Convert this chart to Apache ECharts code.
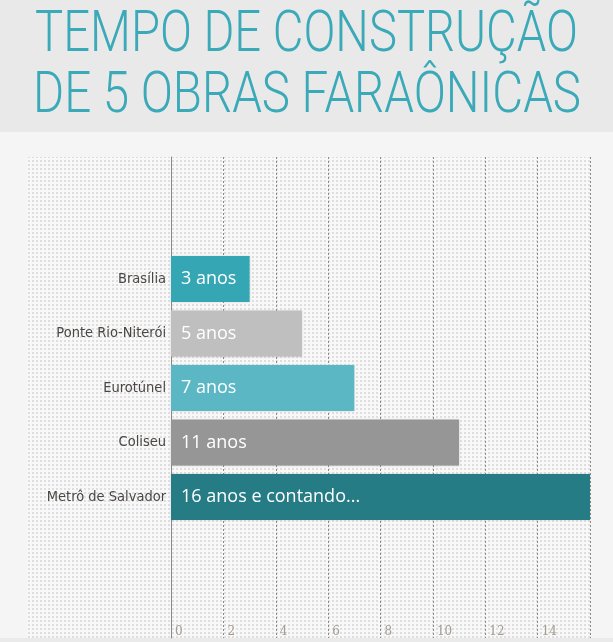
<!DOCTYPE html>
<html><head><meta charset="utf-8">
<script src="https://cdn.jsdelivr.net/npm/echarts@6/dist/echarts.min.js"></script>
<style>html,body{margin:0;padding:0;background:#f5f5f5;}#c{width:613px;height:642px;}</style>
</head><body><div id="c"></div>
<script>
const titleLines = ['TEMPO DE CONSTRUÇÃO', 'DE 5 OBRAS FARAÔNICAS'];
const categories = ['Brasília', 'Ponte Rio-Niterói', 'Eurotúnel', 'Coliseu', 'Metrô de Salvador'];
const years = [3, 5, 7, 11, 16];
const barLabels = ['3 anos', '5 anos', '7 anos', '11 anos', '16 anos e contando...'];
const barColors = ['#35a6b4', '#bfbfbf', '#5bb7c4', '#969696', '#267c85'];
const xMin = 0, xMax = 16, xStep = 2;

const pc = document.createElement('canvas');
pc.width = 4; pc.height = 4;
const g = pc.getContext('2d');
g.fillStyle = '#f8f8f8'; g.fillRect(0,0,4,4);
g.fillStyle = '#dedede'; g.fillRect(0,0,2,2);

const labelFont = '"DejaVu Sans Condensed","Liberation Sans Narrow",sans-serif';
const titleFontCss = '300 57px Roboto,"DejaVu Sans Condensed",sans-serif';
const mc = document.createElement('canvas').getContext('2d');
mc.font = titleFontCss;
const sx1 = 543 / mc.measureText(titleLines[0]).width;
const sx2 = 548 / mc.measureText(titleLines[1]).width;

const chart = echarts.init(document.getElementById('c'), null, {renderer:'canvas'});
chart.setOption({
  animation: false,
  backgroundColor: '#f5f5f5',
  graphic: [
    {type:'rect', z:-10, silent:true, shape:{x:0,y:0,width:613,height:132}, style:{fill:'#e9e9e9'}},
    {type:'rect', z:-10, silent:true, shape:{x:0,y:638,width:613,height:4}, style:{fill:'#eaeaea'}},
    {type:'rect', z:-9, silent:true, shape:{x:27,y:157,width:563,height:481}, style:{fill:{image:pc, repeat:'repeat'}}},
    {type:'text', z:10, x:306.5, y:8, scaleX:sx1, style:{text:titleLines[0], font:titleFontCss, fill:'#3aa9b8', align:'center', verticalAlign:'top'}},
    {type:'text', z:10, x:307, y:69, scaleX:sx2, style:{text:titleLines[1], font:titleFontCss, fill:'#3aa9b8', align:'center', verticalAlign:'top'}}
  ],
  grid: [
    {left:171, right:23, top:251.75, height:272.5},
    {left:171, right:23, top:157, bottom:4}
  ],
  xAxis: [
    {gridIndex:0, type:'value', min:xMin, max:xMax, interval:xStep, show:false, splitLine:{show:false}},
    {gridIndex:1, type:'value', min:xMin, max:xMax, interval:xStep,
     axisLine:{show:false}, axisTick:{show:false},
     splitLine:{show:true, lineStyle:{color:'#8a8a8a', type:[2,2], width:1}},
     axisLabel:{inside:true, showMaxLabel:false, align:'left', margin:0, padding:[0,0,0,4],
       color:'#a59c92', fontSize:12, fontFamily:'"DejaVu Serif",serif'}}
  ],
  yAxis: [
    {gridIndex:0, type:'category', data:categories, inverse:true,
     axisLine:{show:false}, axisTick:{show:false},
     axisLabel:{margin:5, color:'#4a4744', fontSize:14.5, fontFamily:labelFont}},
    {gridIndex:1, type:'value', min:0, max:1, axisLabel:{show:false}, axisTick:{show:false}, splitLine:{show:false},
     axisLine:{show:true, lineStyle:{color:'#8a8a8a', width:1}}}
  ],
  series: [{
    type:'bar', xAxisIndex:0, yAxisIndex:0, barWidth:46,
    data: years.map((v,i)=>({value:v, itemStyle:{color:barColors[i], shadowBlur:2, shadowColor:'rgba(0,0,0,0.15)'}})),
    label:{show:true, position:'insideLeft', distance:10, color:'#fff', fontSize:18, fontFamily:'"Open Sans",sans-serif',
      formatter:p=>barLabels[p.dataIndex]}
  }]
});
</script></body></html>
